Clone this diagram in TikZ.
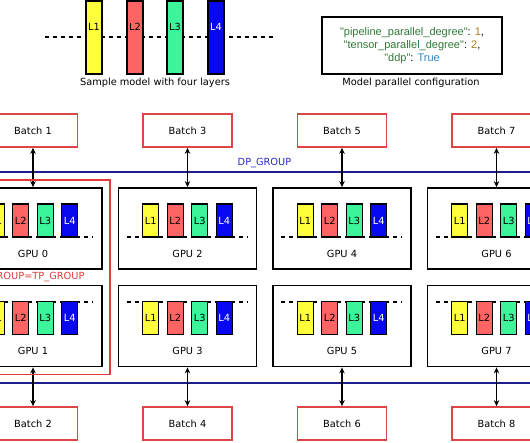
\documentclass[tikz,border=0pt]{standalone}
\usepackage{fontspec}
\setmainfont{DejaVu Sans}
\newfontfamily\cfgfont{Liberation Sans}[Ligatures=TeXOff]
\usetikzlibrary{arrows.meta,fit}

\definecolor{lyellow}{HTML}{FFFF3C}
\definecolor{lred}{HTML}{FF6464}
\definecolor{lgreen}{HTML}{3CF59A}
\definecolor{lblue}{HTML}{0808F0}
\definecolor{batchred}{HTML}{DC4646}
\definecolor{tpred}{HTML}{E03A3A}
\definecolor{dpblue}{HTML}{1E1E8C}
\definecolor{dptext}{HTML}{2828C8}
\definecolor{keygreen}{HTML}{2F7A36}
\definecolor{numbrown}{HTML}{A87B1A}
\definecolor{trueblue}{HTML}{2C86C6}

\tikzset{
  layer/.style={draw=black,line width=1.4pt,minimum width=16pt,inner sep=0pt},
  batch/.style={draw=batchred,line width=1.7pt,minimum width=89pt,minimum height=33pt,inner sep=0pt},
  gpu/.style={draw=black,line width=1.8pt,minimum width=138pt,minimum height=81pt,inner sep=0pt},
  dbl/.style={{Stealth[length=6pt,width=5.5pt]}-{Stealth[length=6pt,width=5.5pt]},line width=1.7pt},
  dashln/.style={dash pattern=on 4pt off 4pt,line width=1.5pt},
}

\begin{document}
\begin{tikzpicture}[x=1pt,y=-1pt,font=\fontsize{9.8}{11}\selectfont]

          \useasboundingbox (0,0) rectangle (530,442);
          \clip (0,0) rectangle (530,442);

          % sample model
          \draw[dashln] (45,37) -- (273,37);
          \foreach \x/\fc/\tc [count=\k] in {94/lyellow/black,135/lred/black,175/lgreen/black,216/lblue/white}{
            \node[layer,fill=\fc,minimum height=73pt] (mod\k) at (\x,37.5) {};
            \node[text=\tc] (modtxt\k) at ([yshift=10.5pt]mod\k.center) {L\k};
          }
          \node (modcap) at (155,83) {Sample model with four layers};

          % configuration
          \node[draw=black,line width=1.8pt,minimum width=180pt,minimum height=57pt,align=center,
            font=\cfgfont\fontsize{11}{13}\selectfont] (cfg) at (412,45.5)
            {\textcolor{keygreen}{"pipeline\_parallel\_degree"}: \textcolor{numbrown}{1},\\
             \textcolor{keygreen}{"tensor\_parallel\_degree"}: \textcolor{numbrown}{2},\\
             \textcolor{keygreen}{"ddp"}: \textcolor{trueblue}{True}};
          \node (cfgcap) at (411,83) {Model parallel configuration};

          % group lines
          \coordinate (dpl) at (-5,172); \coordinate (dpr) at (535,172);
          \coordinate (btl) at (-5,383); \coordinate (btr) at (535,383);
          \draw[dpblue,line width=1.7pt] (dpl) -- (dpr);
          \draw[dpblue,line width=1.7pt] (btl) -- (btr);
          \node[text=dptext] (dplbl) at (264.5,163) {DP\_GROUP};

          \foreach \c in {0,...,3}{
            \pgfmathsetmacro\xc{33+154.5*\c}
            \pgfmathtruncatemacro\ga{2*\c}
            \pgfmathtruncatemacro\gb{2*\c+1}
            \pgfmathtruncatemacro\ba{2*\c+1}
            \pgfmathtruncatemacro\bb{2*\c+2}
            \node[batch] (batch\ba) at (\xc,130.5) {Batch \ba};
            \node[batch] (batch\bb) at (\xc,423.5) {Batch \bb};
            \node[gpu] (gpu\ga) at (\xc,228.5) {};
            \node[gpu] (gpu\gb) at (\xc,326) {};
            \node (gputxt\ga) at ([yshift=-25.5pt]gpu\ga.center) {GPU \ga};
            \node (gputxt\gb) at ([yshift=-25pt]gpu\gb.center) {GPU \gb};
            \draw[dashln] ([shift={(-61,8.5)}]gpu\ga.center) -- ([shift={(60,8.5)}]gpu\ga.center);
            \draw[dashln] ([shift={(-61,-24)}]gpu\gb.center) -- ([shift={(60,-24)}]gpu\gb.center);
            \foreach \dx/\fc/\tc [count=\k] in {-36.75/lyellow/black,-12.25/lred/black,12.25/lgreen/black,36.75/lblue/white}{
              \node[layer,fill=\fc,text=\tc,minimum height=33pt] (lay\ga-\k) at ([shift={(\dx,-8)}]gpu\ga.center) {L\k};
              \node[layer,fill=\fc,text=\tc,minimum height=33pt] (lay\gb-\k) at ([shift={(\dx,-8)}]gpu\gb.center) {L\k};
            }
            \draw[dbl] (batch\ba) -- (gpu\ga);
            \draw[dbl] (batch\bb) -- (gpu\gb);
          }

          % tensor parallel group
          \node[draw=tpred,line width=1.7pt,fit=(gpu0)(gpu1),inner sep=7pt] (tpgrp) {};
          \node[text=tpred,anchor=east] (tplbl) at (88,277) {ROUP=TP\_GROUP};

        \end{tikzpicture}
\end{document}
